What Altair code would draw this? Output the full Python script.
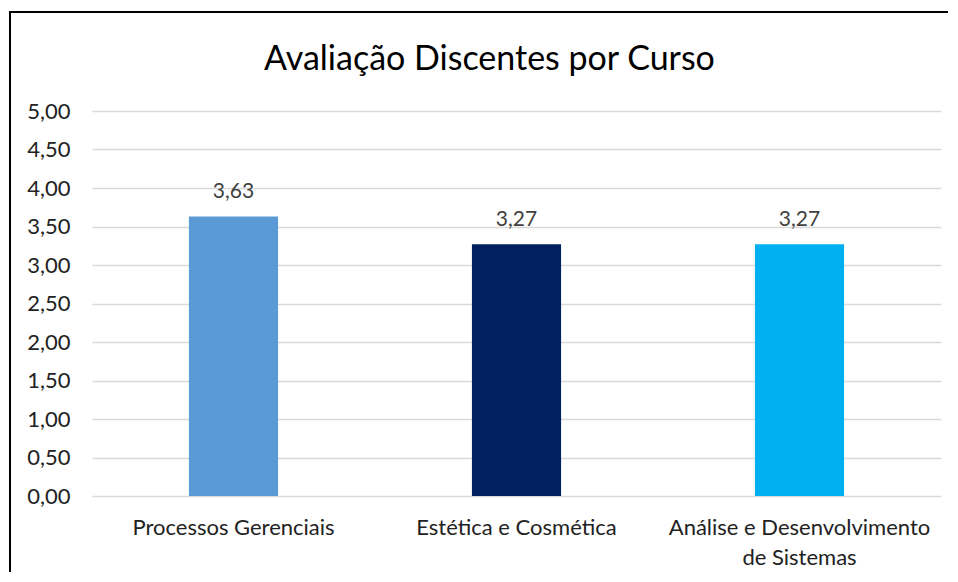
import altair as alt
import pandas as pd

categories = ["Processos Gerenciais", "Estética e Cosmética", "Análise e Desenvolvimento de Sistemas"]
values = [3.63, 3.27, 3.27]
colors = ["#5B9BD5", "#002060", "#00B0F0"]
y_ticks = [0, 0.5, 1, 1.5, 2, 2.5, 3, 3.5, 4, 4.5, 5]

df = pd.DataFrame({"curso": categories, "nota": values, "cor": colors})
df["rotulo"] = [f"{v:.2f}".replace(".", ",") for v in values]

W, H = 849, 385
FONT = "Lato"

x_enc = alt.X(
    "curso:N",
    sort=categories,
    scale=alt.Scale(paddingInner=0.685, paddingOuter=0.3425),
    axis=alt.Axis(
        title=None,
        labelAngle=0,
        labelFont=FONT,
        labelFontSize=22,
        labelColor="#222222",
        labelPadding=21,
        labelLineHeight=30,
        ticks=False,
        domain=False,
        labelLimit=400,
        labelOverlap=False,
        labelExpr="datum.value == 'Análise e Desenvolvimento de Sistemas' ? ['Análise e Desenvolvimento', 'de Sistemas'] : datum.value",
    ),
)

y_enc = alt.Y(
    "nota:Q",
    scale=alt.Scale(domain=[0, 5], nice=False),
    axis=alt.Axis(
        title=None,
        values=y_ticks,
        labelExpr="replace(format(datum.value, '.2f'), '.', ',')",
        labelFont=FONT,
        labelFontSize=22,
        labelColor="#222222",
        labelPadding=22,
        labelOverlap=False,
        ticks=False,
        domain=False,
        grid=True,
        gridColor="#D9D9D9",
        gridWidth=1.5,
    ),
)

bars = alt.Chart(df).mark_bar().encode(
    x=x_enc,
    y=y_enc,
    color=alt.Color("cor:N", scale=None),
)

labels = alt.Chart(df).mark_text(
    font=FONT, fontSize=21, color="#404040", dy=-24, baseline="middle"
).encode(
    x=x_enc,
    y=y_enc,
    text="rotulo:N",
)

border = alt.Chart(df).mark_rect(
    fill=None, stroke="#000000", strokeWidth=2
).encode(
    x=alt.value(-82), x2=alt.value(W + 60),
    y=alt.value(-99), y2=alt.value(H + 120),
)

chart = alt.layer(border, bars, labels).properties(
    width=W,
    height=H,
    autosize=alt.AutoSizeParams(type="none"),
    padding={"left": 84, "top": 103, "right": 7, "bottom": 76},
    title=alt.TitleParams(
        "Avaliação Discentes por Curso",
        font=FONT,
        fontSize=34,
        fontWeight="normal",
        color="#000000",
        anchor="middle",
        dx=-27,
        offset=-66,
    ),
).configure_view(stroke=None)

chart.save("out.html", embed_options={"renderer": "svg", "actions": False})
